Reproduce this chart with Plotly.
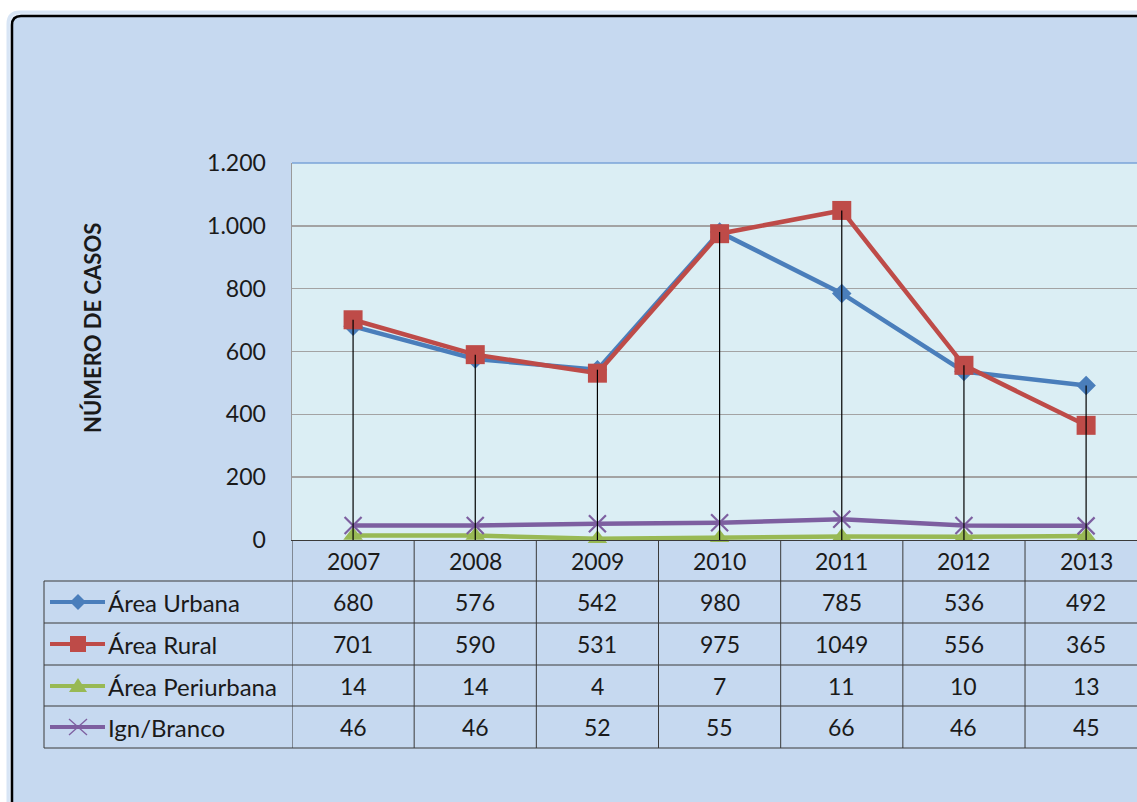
import plotly.graph_objects as go

# ---------------- data ----------------
years = ["2007", "2008", "2009", "2010", "2011", "2012", "2013"]
series_names = ["Área Urbana", "Área Rural", "Área Periurbana", "Ign/Branco"]
urbana = [680, 576, 542, 980, 785, 536, 492]
rural = [701, 590, 531, 975, 1049, 556, 365]
periurbana = [14, 14, 4, 7, 11, 10, 13]
ign_branco = [46, 46, 52, 55, 66, 46, 45]
y_ticks = [0, 200, 400, 600, 800, 1000, 1200]
y_title = "NÚMERO DE CASOS"

series_values = [urbana, rural, periurbana, ign_branco]
colors = ["#4A7EBB", "#BE4B48", "#98B954", "#7D5FA0"]
symbols = ["diamond", "square", "triangle-up", "x-thin-open"]
marker_sizes = [15, 19, 17, 17]

# ---------------- layout helpers (viewport pixels) ----------------
W, H = 1137, 802
OFF = 0  # body margin removed via post_script
FONT = "Lato, 'Open Sans', sans-serif"
TXT = "#1A1A1A"


def px(x):
    return (x - OFF) / W


def py(y):
    return 1 - (y - OFF) / H


PLOT_L, PLOT_T, PLOT_B = 292, 163, 540
Y_MAX = 1200
COL_W = 122.17
x_max = -0.5 + (W + OFF - PLOT_L) / COL_W

row_lines = [581, 623, 665, 706, 748]
row_centers = [602, 644, 686, 727]
header_center = 561
TABLE_L = 44
KEY_X0, KEY_X1, KEY_XM = 50, 105, 78

fig = go.Figure()

for name, vals, c, s, ms in zip(series_names, series_values, colors, symbols, marker_sizes):
    mk = dict(symbol=s, size=ms, color=c)
    if s.startswith("x"):
        mk["line"] = dict(color=c, width=2.2)
    fig.add_trace(go.Scatter(
        x=list(range(len(years))), y=vals, mode="lines+markers", name=name,
        line=dict(color=c, width=4.5), marker=mk, showlegend=False, cliponaxis=False))

# drop lines (drawn above markers, from the top point to the axis)
dx, dy = [], []
for i in range(len(years)):
    top = max(v[i] for v in series_values)
    dx += [i, i, None]
    dy += [0, top, None]
fig.add_trace(go.Scatter(x=dx, y=dy, mode="lines", line=dict(color="#000000", width=1.2),
                         showlegend=False, hoverinfo="skip"))

shapes = []
r = 9
L, T, R, B = 12, 16, 1250, 880


def frame_path(l, t, rr, b, rad):
    return (f"M {px(l)},{py(t + rad)} Q {px(l)},{py(t)} {px(l + rad)},{py(t)} "
            f"L {px(rr)},{py(t)} L {px(rr)},{py(b)} L {px(l)},{py(b)} Z")


def poly(points):
    return "M " + " L ".join(f"{px(a)},{py(b)}" for a, b in points) + " Z"


shapes.append(dict(type="path", xref="paper", yref="paper", layer="below",
                   path=frame_path(L - 4, T - 4, R, B, r + 3),
                   fillcolor="#E3ECF8", line=dict(color="#D8E5F5", width=3)))
shapes.append(dict(type="path", xref="paper", yref="paper", layer="below",
                   path=frame_path(L, T, R, B, r),
                   fillcolor="#C6D9F0", line=dict(color="#000000", width=2.5)))
# plot area background
shapes.append(dict(type="rect", xref="paper", yref="paper", layer="below",
                   x0=px(PLOT_L), x1=1, y0=py(PLOT_B), y1=py(PLOT_T),
                   fillcolor="#DBEEF4", line=dict(width=0)))

# legend keys (line + marker glyph)
for c, s, yc in zip(colors, symbols, row_centers):
    shapes.append(dict(type="line", xref="paper", yref="paper",
                       x0=px(KEY_X0), x1=px(KEY_X1), y0=py(yc), y1=py(yc),
                       line=dict(color=c, width=4)))
    m = KEY_XM
    if s == "diamond":
        shapes.append(dict(type="path", xref="paper", yref="paper", line=dict(width=0),
                           fillcolor=c, path=poly([(m, yc - 8), (m + 8, yc), (m, yc + 8), (m - 8, yc)])))
    elif s == "square":
        shapes.append(dict(type="path", xref="paper", yref="paper", line=dict(width=0),
                           fillcolor=c, path=poly([(m - 8, yc - 8), (m + 8, yc - 8), (m + 8, yc + 8), (m - 8, yc + 8)])))
    elif s == "triangle-up":
        shapes.append(dict(type="path", xref="paper", yref="paper", line=dict(width=0),
                           fillcolor=c, path=poly([(m, yc - 8), (m + 9, yc + 6), (m - 9, yc + 6)])))
    else:
        for d in (1, -1):
            shapes.append(dict(type="line", xref="paper", yref="paper",
                               x0=px(m - 9), x1=px(m + 9), y0=py(yc - 8 * d), y1=py(yc + 8 * d),
                               line=dict(color=c, width=1.3)))

# plot area top border
shapes.append(dict(type="line", xref="paper", yref="paper", x0=px(PLOT_L), x1=1,
                   y0=py(PLOT_T), y1=py(PLOT_T), line=dict(color="#7AA3D8", width=1.5)))

LC = "#3A3A3A"
for yl in row_lines:
    shapes.append(dict(type="line", xref="paper", yref="paper", x0=px(TABLE_L), x1=1,
                       y0=py(yl), y1=py(yl), line=dict(color=LC, width=1)))
shapes.append(dict(type="line", xref="paper", yref="paper", x0=px(TABLE_L), x1=px(TABLE_L),
                   y0=py(row_lines[0]), y1=py(row_lines[-1]), line=dict(color=LC, width=1)))
for i in range(len(years)):
    shapes.append(dict(type="line", xref="x", yref="paper", x0=i - 0.5, x1=i - 0.5,
                       y0=py(PLOT_B), y1=py(row_lines[-1]), line=dict(color=LC, width=1)))

TS = 23
annotations = []
for i, yr in enumerate(years):
    annotations.append(dict(xref="x", yref="paper", x=i, y=py(header_center), text=yr,
                            xanchor="center", yanchor="middle",
                            showarrow=False, font=dict(family=FONT, size=TS, color=TXT)))
    for vals, yc in zip(series_values, row_centers):
        annotations.append(dict(xref="x", yref="paper", x=i, y=py(yc), text=str(vals[i]),
                                xanchor="center", yanchor="middle",
                                showarrow=False, font=dict(family=FONT, size=TS, color=TXT)))
for name, yc in zip(series_names, row_centers):
    annotations.append(dict(xref="paper", yref="paper", x=px(106), y=py(yc), text=name,
                            xanchor="left", yanchor="middle", showarrow=False,
                            font=dict(family=FONT, size=24, color=TXT)))
annotations.append(dict(xref="paper", yref="paper", x=px(92), y=py(328), text=f"<b>{y_title}</b>",
                        textangle=-90, xanchor="center", yanchor="middle", showarrow=False,
                        font=dict(family=FONT, size=22, color=TXT)))

fig.update_layout(
    width=W, height=H, margin=dict(l=0, r=0, t=0, b=0, pad=0),
    paper_bgcolor="#FFFFFF", plot_bgcolor="rgba(0,0,0,0)",
    separators=",.", hovermode=False,
    shapes=shapes, annotations=annotations,
    xaxis=dict(domain=[px(PLOT_L), 1], range=[-0.5, x_max], showgrid=False,
               showticklabels=False, ticks="", zeroline=False, automargin=False,
               showline=True, linecolor=LC, linewidth=1),
    yaxis=dict(domain=[py(PLOT_B), py(PLOT_T)], range=[0, Y_MAX], tickvals=y_ticks,
               tickformat=",d", showgrid=True, gridcolor="#A3A3A3", gridwidth=1.5,
               zeroline=False, showline=True, linecolor="#9A9A9A", linewidth=1.5,
               ticks="", ticklabelstandoff=20, automargin=False,
               tickfont=dict(family=FONT, size=TS, color=TXT)),
)

fig.write_html(
    "out.html",
    config={"displayModeBar": False, "staticPlot": True},
    post_script="document.body.style.margin='0px';document.body.style.overflow='hidden';",
)
